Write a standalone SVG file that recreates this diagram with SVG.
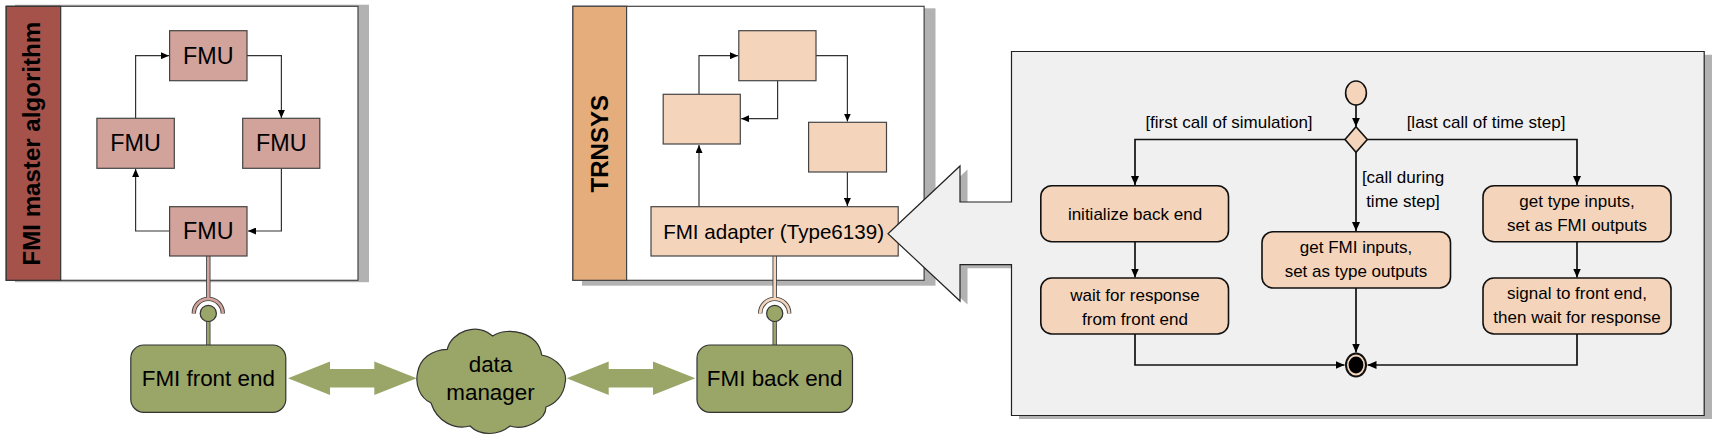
<svg xmlns="http://www.w3.org/2000/svg" width="1718" height="442" viewBox="0 0 1718 442">
<style>
text{font-family:"Liberation Sans",Arial,sans-serif;fill:#000;text-anchor:middle}
.big{font-size:22.4px}
.fm{font-size:23.3px}
.mid{font-size:20.6px}
.sm{font-size:17px}
.title{font-size:24.1px;font-weight:bold}
.panel{fill:#fff;stroke:#444;stroke-width:1.2}
.shadow{fill:#b2b2b2}
.fmu{fill:#d2a39a;stroke:#444;stroke-width:1.2}
.box{fill:#f4d5bb;stroke:#444;stroke-width:1.2}
.act{fill:#f4d5bb;stroke:#111;stroke-width:1.6}
.green{fill:#9aa568;stroke:#333;stroke-width:1.2}
.c{fill:none;stroke:#333;stroke-width:1.2}
.c2{fill:none;stroke:#111;stroke-width:1.7}
.o{fill:none;stroke:#444;stroke-width:4.4}
.pink{fill:none;stroke:#d2a39a;stroke-width:2.6}
.peach{fill:none;stroke:#f4d5bb;stroke-width:2.6}
.g{fill:none;stroke:#9aa568;stroke-width:2.6}
.dbl{fill:#9aa568}
</style>
<defs>
<marker id="a" viewBox="0 0 8 7" refX="8" refY="3.5" markerWidth="8" markerHeight="7" markerUnits="userSpaceOnUse" orient="auto"><path d="M0 0L8 3.5L0 7z" fill="#000"/></marker>
<marker id="b" viewBox="0 0 9 8" refX="9" refY="4" markerWidth="9" markerHeight="8" markerUnits="userSpaceOnUse" orient="auto"><path d="M0 0L9 4L0 8z" fill="#000"/></marker>
</defs>
<g id="panel-master">
<rect class="shadow" x="15" y="4.7" width="354" height="277.5"/>
<rect class="panel" x="6.2" y="6.3" width="351.8" height="274"/>
<rect x="6.2" y="6.3" width="54.5" height="274" fill="#a5524a" stroke="#333" stroke-width="1.2"/>
<text class="title" transform="translate(39.5 143.7) rotate(-90)">FMI master algorithm</text>
</g>
<g id="panel-trnsys">
<rect class="shadow" x="582" y="8.3" width="353.5" height="277.4"/>
<rect class="panel" x="572.9" y="6.3" width="351.2" height="274"/>
<rect x="572.9" y="6.3" width="53.7" height="274" fill="#e5ad7b" stroke="#444" stroke-width="1.2"/>
<text class="title" transform="translate(607.5 143.7) rotate(-90)">TRNSYS</text>
</g>
<g id="connectors">
<path class="c" d="M135.6 118.3V55.7H169" marker-end="url(#a)"/>
<path class="c" d="M247 55.7H281.4V118" marker-end="url(#a)"/>
<path class="c" d="M281.4 168.3V231H248" marker-end="url(#a)"/>
<path class="c" d="M169.6 231H135.6V169" marker-end="url(#a)"/>
<path class="c" d="M699 94.3V55.7H738" marker-end="url(#a)"/>
<path class="c" d="M816 55.7H847.4V121.5" marker-end="url(#a)"/>
<path class="c" d="M847.4 172V206" marker-end="url(#a)"/>
<path class="c" d="M699 206.7V145" marker-end="url(#a)"/>
<path class="c" d="M777.6 80.7V118.7H741.2" marker-end="url(#a)"/>
<path class="o" d="M208.3 256V299M193.8 313.4A14.5 14.5 0 0 1 222.8 313.4"/>
<path class="pink" d="M208.3 256V300M193.8 313.4A14.5 14.5 0 0 1 222.8 313.4"/>
<path class="o" d="M208.3 320V345"/>
<path class="g" d="M208.3 320V345"/>
<path class="o" d="M774.7 256V299M760.2 313.4A14.5 14.5 0 0 1 789.2 313.4"/>
<path class="peach" d="M774.7 256V300M760.2 313.4A14.5 14.5 0 0 1 789.2 313.4"/>
<path class="o" d="M774.7 320V345"/>
<path class="g" d="M774.7 320V345"/>
<path class="dbl" d="M288 378.3L330 361.6V369H374.3V361.6L416.7 378.3L374.3 395V387.6H330V395z"/>
<path class="dbl" d="M566.7 378.3L608.7 361.6V369H653V361.6L695.3 378.3L653 395V387.6H608.7V395z"/>
</g>
<g id="fmu-top"><rect class="fmu" x="169.6" y="30.7" width="77.4" height="50"/><text class="fm" x="208.3" y="63.8">FMU</text></g>
<g id="fmu-left"><rect class="fmu" x="96.9" y="118.3" width="77.4" height="50"/><text class="fm" x="135.6" y="151.4">FMU</text></g>
<g id="fmu-right"><rect class="fmu" x="242.7" y="118.3" width="77.1" height="50"/><text class="fm" x="281.3" y="151.4">FMU</text></g>
<g id="fmu-bottom"><rect class="fmu" x="169.6" y="206.7" width="77.4" height="49.3"/><text class="fm" x="208.3" y="239.4">FMU</text></g>
<g id="box-top"><rect class="box" x="738.8" y="30.7" width="77.2" height="50"/></g>
<g id="box-left"><rect class="box" x="663.2" y="94.3" width="77.1" height="49.7"/></g>
<g id="box-right"><rect class="box" x="808.6" y="122.3" width="77.9" height="49.7"/></g>
<g id="fmi-adapter"><rect class="box" x="651" y="206.7" width="247.2" height="49.3"/><text class="mid" x="773.6" y="239">FMI adapter (Type6139)</text></g>
<g id="ball-front"><circle class="green" cx="208.3" cy="313.4" r="8.1"/></g>
<g id="ball-back"><circle class="green" cx="774.7" cy="313.4" r="8.1"/></g>
<g id="fmi-front-end"><rect class="green" x="130.8" y="345" width="155" height="67.3" rx="13"/><text class="big" x="208.3" y="385.7">FMI front end</text></g>
<g id="fmi-back-end"><rect class="green" x="697" y="345" width="155.5" height="67.3" rx="13"/><text class="big" x="774.7" y="385.7">FMI back end</text></g>
<g id="data-manager">
<path class="green" d="M447.3 349.3C451 332 476 322 492.7 336C508 326 538 332 541.7 355C558 358 568 372 565 383C564 395 555 404 546 407C546 420 525 431 510 426C498 436 480 436 470 426C455 430 437 422 431 403C420 398 415 385 417.5 373C420 358 432 350 447.3 349.3z"/>
<text class="big" x="490.5" y="371.7">data</text>
<text class="big" x="490.5" y="399.5">manager</text>
</g>
<g id="activity-panel">
<path class="shadow" d="M895.5 237.2L967.5 169.5V205.5H1019V54.8H1712V419H1019V268.2H967.5V304.5z"/>
<path d="M888 233.7L960 166V202H1011.5V51.5H1704.2V415.5H1011.5V264.7H960V301z" fill="#f0f0f0" stroke="#222" stroke-width="1.2"/>
</g>
<g id="activity-connectors">
<path class="c2" d="M1356 105V126.7" marker-end="url(#b)"/>
<path class="c2" d="M1345 139.5H1135V185" marker-end="url(#b)"/>
<path class="c2" d="M1367.3 139.5H1577V185" marker-end="url(#b)"/>
<path class="c2" d="M1356 152V231" marker-end="url(#b)"/>
<path class="c2" d="M1135 241.7V277.5" marker-end="url(#b)"/>
<path class="c2" d="M1577 241.7V277.5" marker-end="url(#b)"/>
<path class="c2" d="M1356 288V352.5" marker-end="url(#b)"/>
<path class="c2" d="M1135 334V365H1344.5" marker-end="url(#b)"/>
<path class="c2" d="M1577 334V365H1367.5" marker-end="url(#b)"/>
</g>
<g id="start"><ellipse class="act" cx="1356" cy="93" rx="10.4" ry="12"/></g>
<g id="decision"><path class="act" d="M1356 126.7L1367.3 139.5L1356 152.3L1345 139.5z"/></g>
<g id="end"><ellipse cx="1356" cy="365" rx="10" ry="11.5" fill="#f4d5bb" stroke="#111" stroke-width="2"/><ellipse cx="1356" cy="365" rx="7.4" ry="8.4" fill="#000"/></g>
<g id="initialize"><rect class="act" x="1040.8" y="185.7" width="187.7" height="56" rx="11"/><text class="sm" x="1135" y="220.3">initialize back end</text></g>
<g id="wait"><rect class="act" x="1040.8" y="278" width="187.7" height="56" rx="11"/><text class="sm" x="1135" y="301">wait for response</text><text class="sm" x="1135" y="325">from front end</text></g>
<g id="get-fmi"><rect class="act" x="1262" y="231.7" width="188.5" height="56.3" rx="11"/><text class="sm" x="1356" y="252.7">get FMI inputs,</text><text class="sm" x="1356" y="276.7">set as type outputs</text></g>
<g id="get-type"><rect class="act" x="1483" y="185.7" width="188" height="56" rx="11"/><text class="sm" x="1577" y="206.7">get type inputs,</text><text class="sm" x="1577" y="230.7">set as FMI outputs</text></g>
<g id="signal"><rect class="act" x="1483" y="278" width="188" height="56" rx="11"/><text class="sm" x="1577" y="299.3">signal to front end,</text><text class="sm" x="1577" y="323.3">then wait for response</text></g>
<g id="labels">
<text class="sm" x="1229" y="128">[first call of simulation]</text>
<text class="sm" x="1486" y="128">[last call of time step]</text>
<text class="sm" x="1403" y="183.3">[call during</text>
<text class="sm" x="1403" y="206.7">time step]</text>
</g>
</svg>
